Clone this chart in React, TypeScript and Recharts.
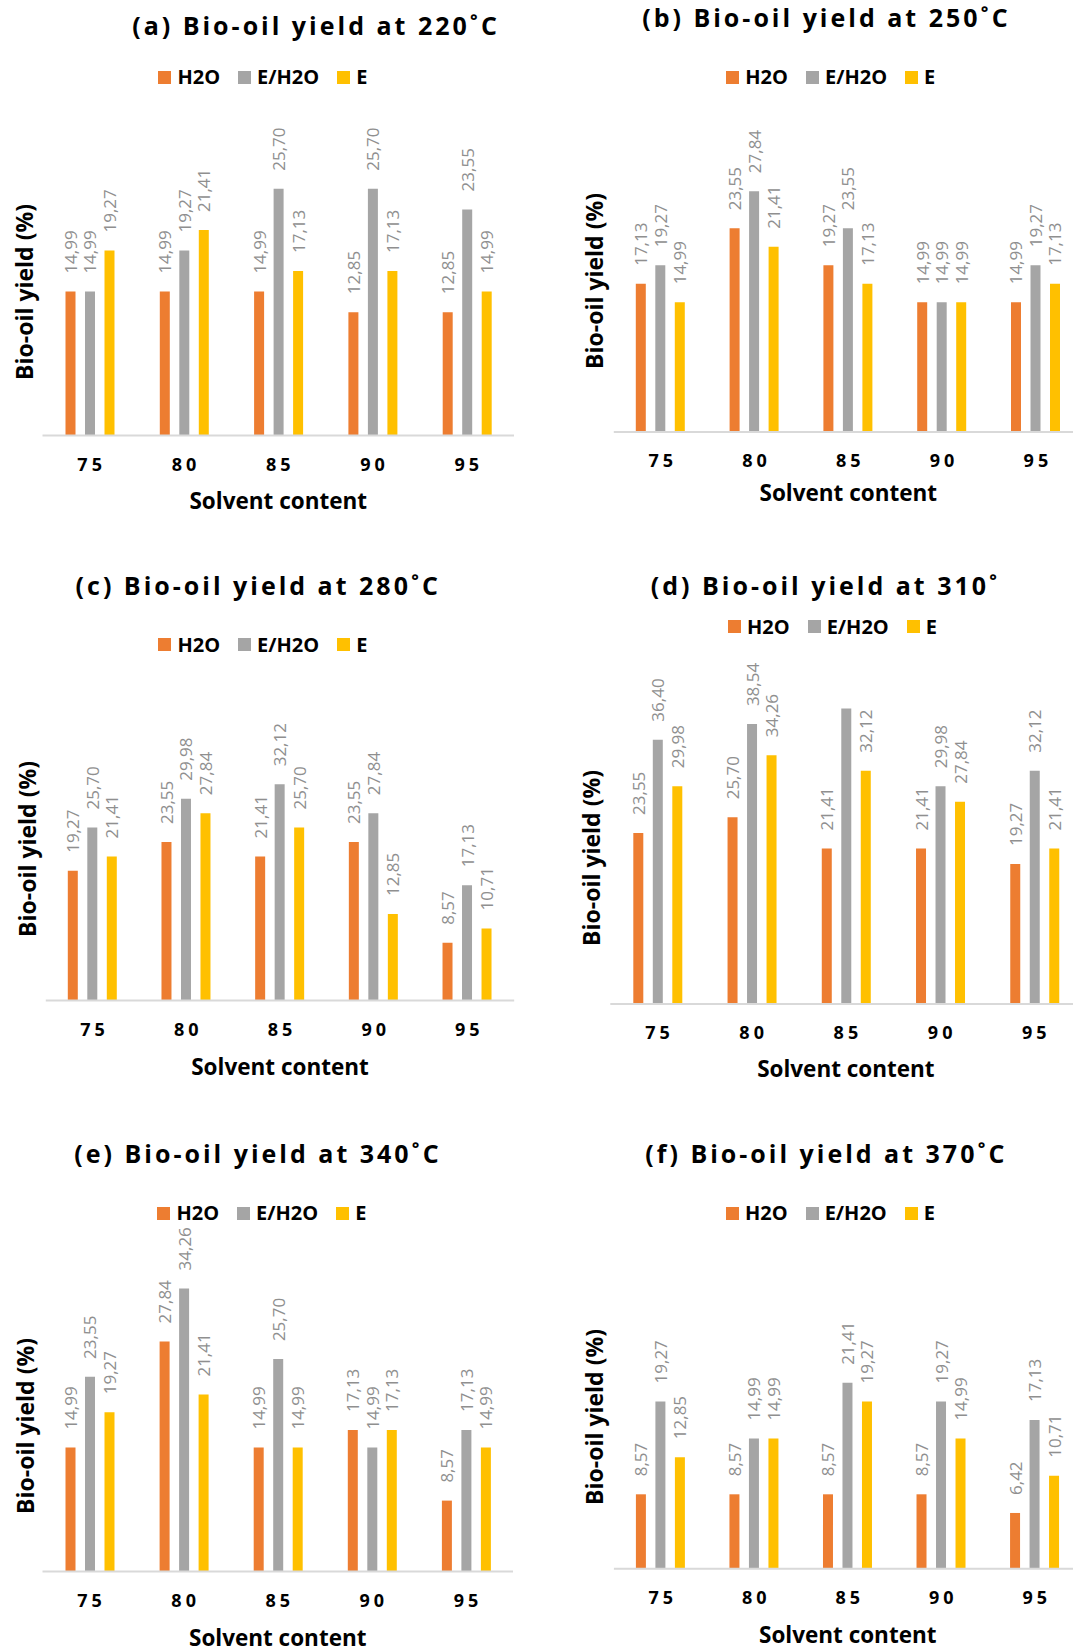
import { Bar, BarChart, Label, Legend, XAxis, YAxis } from "recharts";

const SANS = '"Open Sans", "DejaVu Sans", sans-serif';

const CATEGORIES = ["75", "80", "85", "90", "95"];
const SERIES = ["H2O", "E/H2O", "E"];
const COLORS = ["#ED7D31", "#A5A5A5", "#FFC000"];

// bio-oil yield (%) by solvent content, one set per temperature
const H2O_220 = [14.99, 14.99, 14.99, 12.85, 12.85];
const EH2O_220 = [14.99, 19.27, 25.7, 25.7, 23.55];
const E_220 = [19.27, 21.41, 17.13, 17.13, 14.99];

const H2O_250 = [17.13, 23.55, 19.27, 14.99, 14.99];
const EH2O_250 = [19.27, 27.84, 23.55, 14.99, 19.27];
const E_250 = [14.99, 21.41, 17.13, 14.99, 17.13];

const H2O_280 = [19.27, 23.55, 21.41, 23.55, 8.57];
const EH2O_280 = [25.7, 29.98, 32.12, 27.84, 17.13];
const E_280 = [21.41, 27.84, 25.7, 12.85, 10.71];

const H2O_310 = [23.55, 25.7, 21.41, 21.41, 19.27];
const EH2O_310 = [36.4, 38.54, 40.68, 29.98, 32.12];
const E_310 = [29.98, 34.26, 32.12, 27.84, 21.41];
// the 85 / E/H2O bar carries no data label in the original
const HIDDEN_310 = ["E/H2O:2"];

const H2O_340 = [14.99, 27.84, 14.99, 17.13, 8.57];
const EH2O_340 = [23.55, 34.26, 25.7, 14.99, 17.13];
const E_340 = [19.27, 21.41, 14.99, 17.13, 14.99];

const H2O_370 = [8.57, 8.57, 8.57, 8.57, 6.42];
const EH2O_370 = [19.27, 14.99, 21.41, 19.27, 17.13];
const E_370 = [12.85, 14.99, 19.27, 14.99, 10.71];

interface Layout {
  chartLeft: number;
  chartTop: number;
  chartWidth: number;
  plotLeft: number;
  plotRight: number;
  baseline: number;
  ppu: number;
  titleX: number;
  titleY: number;
  legendX: number;
  legendY: number;
  yTitleX: number;
  yTitleY: number;
  tickDy: number;
  xTitleDy: number;
}

interface PanelDef {
  title: string;
  series: number[][];
  hidden?: string[];
  layout: Layout;
}

const PANELS: PanelDef[] = [
  {
    title: "(a) Bio-oil yield at 220˚C",
    series: [H2O_220, EH2O_220, E_220],
    layout: {
      chartLeft: 0, chartTop: 0, chartWidth: 540, plotLeft: 42.5, plotRight: 514,
      baseline: 435.5, ppu: 9.6, titleX: 316, titleY: 24.5, legendX: 158.4, legendY: 77,
      yTitleX: 24, yTitleY: 292, tickDy: 28.2, xTitleDy: 65,
    },
  },
  {
    title: "(b) Bio-oil yield at 250˚C",
    series: [H2O_250, EH2O_250, E_250],
    layout: {
      chartLeft: 540, chartTop: 0, chartWidth: 543, plotLeft: 613.8, plotRight: 1082.8,
      baseline: 432, ppu: 8.65, titleX: 826.4, titleY: 16.5, legendX: 726.3, legendY: 77,
      yTitleX: 594, yTitleY: 280.6, tickDy: 27.8, xTitleDy: 60,
    },
  },
  {
    title: "(c) Bio-oil yield at 280˚C",
    series: [H2O_280, EH2O_280, E_280],
    layout: {
      chartLeft: 0, chartTop: 560, chartWidth: 540, plotLeft: 45.8, plotRight: 514.2,
      baseline: 1000.5, ppu: 6.73, titleX: 258.3, titleY: 585, legendX: 158.4, legendY: 644.5,
      yTitleX: 26.5, yTitleY: 849, tickDy: 28.4, xTitleDy: 65.5,
    },
  },
  {
    title: "(d) Bio-oil yield at 310˚",
    series: [H2O_310, EH2O_310, E_310],
    hidden: HIDDEN_310,
    layout: {
      chartLeft: 540, chartTop: 560, chartWidth: 543, plotLeft: 610.3, plotRight: 1081.5,
      baseline: 1003.9, ppu: 7.26, titleX: 825.5, titleY: 585, legendX: 728, legendY: 626.6,
      yTitleX: 591, yTitleY: 857.5, tickDy: 27.7, xTitleDy: 64.9,
    },
  },
  {
    title: "(e) Bio-oil yield at 340˚C",
    series: [H2O_340, EH2O_340, E_340],
    layout: {
      chartLeft: 0, chartTop: 1120, chartWidth: 540, plotLeft: 42.5, plotRight: 513,
      baseline: 1571.4, ppu: 8.26, titleX: 258, titleY: 1153, legendX: 157.4, legendY: 1213.4,
      yTitleX: 24.5, yTitleY: 1426, tickDy: 28.6, xTitleDy: 66.2,
    },
  },
  {
    title: "(f) Bio-oil yield at 370˚C",
    series: [H2O_370, EH2O_370, E_370],
    layout: {
      chartLeft: 540, chartTop: 1120, chartWidth: 543, plotLeft: 613.9, plotRight: 1081.6,
      baseline: 1568.7, ppu: 8.68, titleX: 826.4, titleY: 1153, legendX: 726, legendY: 1213.4,
      yTitleX: 594, yTitleY: 1416.5, tickDy: 27.9, xTitleDy: 65.6,
    },
  },
];

const fmt = (v: number) => v.toFixed(2).replace(".", ",");

// legend rows follow the series order (H2O, E/H2O, E)
function LegendRow() {
  return (
    <div style={{ display: "flex", alignItems: "center", height: 26, whiteSpace: "nowrap" }}>
      {SERIES.map((name, i) => (
        <div key={name} style={{ display: "flex", alignItems: "center", marginRight: 18 }}>
          <span style={{ width: 13, height: 13, background: COLORS[i], display: "inline-block", marginRight: 6 }} />
          <span style={{ fontFamily: SANS, fontWeight: 700, fontSize: 20, color: "#000", lineHeight: "26px" }}>
            {name}
          </span>
        </div>
      ))}
    </div>
  );
}

function Panel({ def }: { def: PanelDef }) {
  const L = def.layout;
  const height = L.baseline - L.chartTop + 80;
  const yMax = (L.baseline - L.chartTop) / L.ppu;
  const data = CATEGORIES.map((c, i) => ({
    cat: c,
    s0: def.series[0][i],
    s1: def.series[1][i],
    s2: def.series[2][i],
  }));
  const hidden = def.hidden || [];

  const barLabel = (si: number) => (p: any) => {
    if (hidden.includes(`${SERIES[si]}:${p.index}`)) return null;
    const cx = p.x + p.width / 2;
    const ty = p.y - 18;
    return (
      <text
        x={cx}
        y={ty}
        transform={`rotate(-90, ${cx}, ${ty})`}
        textAnchor="start"
        dominantBaseline="central"
        fontFamily={SANS}
        fontSize={17}
        fill="#8f8f8f"
      >
        {fmt(p.value)}
      </text>
    );
  };

  return (
    <>
      <div
        style={{
          position: "absolute",
          left: L.titleX,
          top: L.titleY,
          transform: "translate(-50%, -50%)",
          fontFamily: SANS,
          fontWeight: 700,
          fontSize: 25,
          letterSpacing: 3,
          lineHeight: "25px",
          whiteSpace: "nowrap",
          color: "#000",
        }}
      >
        {def.title}
      </div>
      <div
        style={{
          position: "absolute",
          left: L.yTitleX,
          top: L.yTitleY,
          transform: "translate(-50%, -50%) rotate(-90deg)",
          fontFamily: SANS,
          fontWeight: 700,
          fontSize: 23,
          lineHeight: "23px",
          whiteSpace: "nowrap",
          color: "#000",
        }}
      >
        Bio-oil yield (%)
      </div>
      <div style={{ position: "absolute", left: L.chartLeft, top: L.chartTop }}>
        <BarChart
          width={L.chartWidth}
          height={height}
          data={data}
          barGap={9.5}
          barSize={10}
          margin={{
            top: 0,
            bottom: 0,
            left: L.plotLeft - L.chartLeft,
            right: L.chartLeft + L.chartWidth - L.plotRight,
          }}
        >
          <XAxis
            dataKey="cat"
            height={80}
            tickSize={0}
            tickMargin={0}
            tickLine={false}
            axisLine={{ stroke: "#d9d9d9", strokeWidth: 2 }}
            interval={0}
            tick={(p: any) => (
              <text
                x={p.x + 2}
                y={p.y + L.tickDy}
                textAnchor="middle"
                dominantBaseline="central"
                fontFamily={SANS}
                fontWeight={700}
                fontSize={18}
                letterSpacing={4}
                fill="#000"
              >
                {p.payload.value}
              </text>
            )}
          >
            <Label
              content={(p: any) => {
                const vb = p.viewBox || {};
                return (
                  <text
                    x={vb.x + vb.width / 2}
                    y={vb.y + L.xTitleDy}
                    textAnchor="middle"
                    dominantBaseline="central"
                    fontFamily={SANS}
                    fontWeight={700}
                    fontSize={22.5}
                    fill="#000"
                  >
                    Solvent content
                  </text>
                );
              }}
            />
          </XAxis>
          <YAxis hide type="number" domain={[0, yMax]} allowDataOverflow />
          <Legend
            layout="vertical"
            align="center"
            verticalAlign="middle"
            content={<LegendRow />}
            wrapperStyle={{
              left: L.legendX - L.chartLeft,
              top: L.legendY - L.chartTop - 13,
              width: "auto",
              height: 26,
            }}
          />
          {SERIES.map((name, si) => (
            <Bar
              key={name}
              dataKey={`s${si}`}
              name={name}
              fill={COLORS[si]}
              isAnimationActive={false}
              label={barLabel(si)}
            />
          ))}
        </BarChart>
      </div>
    </>
  );
}

export default function App() {
  return (
    <div
      style={{
        position: "absolute",
        left: 0,
        top: 0,
        width: 1073,
        height: 1647,
        overflow: "hidden",
        background: "#fff",
      }}
    >
      {PANELS.map((p) => (
        <Panel key={p.title} def={p} />
      ))}
    </div>
  );
}
